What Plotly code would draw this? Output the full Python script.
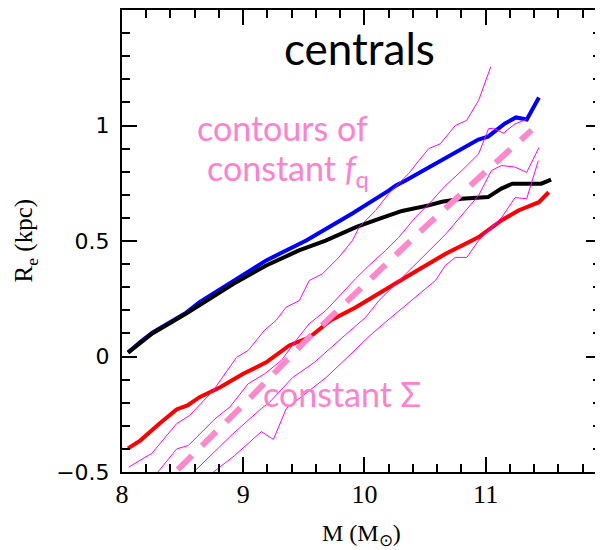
import plotly.graph_objects as go

# ---------------- data ----------------
blue_x = [8.05, 8.15, 8.25, 8.53, 8.64, 8.92, 9.19, 9.52, 9.90, 10.20, 10.26, 10.34,
          10.64, 10.83, 10.94, 11.02, 11.16, 11.25, 11.34, 11.44]
blue_y = [0.017, 0.063, 0.103, 0.19, 0.235, 0.329, 0.416, 0.502, 0.619, 0.718, 0.740, 0.762,
          0.850, 0.905, 0.939, 0.952, 1.009, 1.035, 1.026, 1.121]

black_x = [8.05, 8.15, 8.25, 8.53, 8.64, 8.92, 9.19, 9.46, 9.68, 9.93, 10.12, 10.31,
           10.53, 10.64, 10.80, 10.94, 11.02, 11.13, 11.22, 11.38, 11.46, 11.54]
black_y = [0.017, 0.061, 0.100, 0.186, 0.221, 0.315, 0.394, 0.459, 0.502, 0.560, 0.596, 0.630,
           0.654, 0.670, 0.683, 0.686, 0.690, 0.727, 0.748, 0.748, 0.748, 0.766]

red_x = [8.05, 8.15, 8.31, 8.45, 8.54, 8.64, 8.81, 9.00, 9.19, 9.38, 9.55, 9.72, 9.93,
         10.12, 10.20, 10.39, 10.67, 10.94, 11.13, 11.27, 11.44, 11.52]
red_y = [-0.398, -0.364, -0.290, -0.229, -0.212, -0.176, -0.133, -0.075, -0.025, 0.048, 0.084,
         0.156, 0.213, 0.271, 0.300, 0.358, 0.445, 0.516, 0.589, 0.632, 0.668, 0.711]

# constant surface density (dashed)
sigma_x = [8.46, 9.0, 9.5, 10.0, 10.5, 11.0, 11.38]
sigma_y = [-0.49, -0.21, 0.06, 0.31, 0.56, 0.80, 0.98]

# contours of constant f_q (thin magenta)
cA_x = [8.055, 8.247, 8.452, 8.559, 8.753, 8.945, 9.041, 9.175, 9.271, 9.353, 9.463, 9.545,
        9.654, 9.791, 9.901, 9.956, 10.093, 10.202, 10.284, 10.366, 10.449, 10.531, 10.627,
        10.750, 10.843, 10.942, 11.043]
cA_y = [-0.479, -0.419, -0.290, -0.255, -0.147, -0.004, 0.026, 0.113, 0.156, 0.213, 0.242,
        0.329, 0.358, 0.430, 0.502, 0.560, 0.632, 0.706, 0.749, 0.792, 0.848, 0.900, 0.921,
        1.000, 1.022, 1.108, 1.255]

cB_x = [8.288, 8.452, 8.548, 8.671, 8.767, 8.890, 9.041, 9.177, 9.315, 9.435, 9.545, 9.682,
        9.929, 10.038, 10.175, 10.284, 10.422, 10.558, 10.662, 10.804, 10.942, 11.024, 11.065,
        11.147, 11.243, 11.336]
cB_y = [-0.505, -0.400, -0.385, -0.320, -0.270, -0.219, -0.118, -0.075, -0.017, 0.069, 0.142,
        0.199, 0.338, 0.394, 0.459, 0.516, 0.603, 0.675, 0.736, 0.805, 0.877, 0.986, 0.988,
        0.967, 1.007, 1.026]

cC_x = [8.588, 8.748, 8.832, 8.915, 9.150, 9.216, 9.408, 9.586, 9.846, 10.011, 10.120, 10.383,
        10.668, 10.942, 11.048, 11.131, 11.243, 11.339, 11.440]
cC_y = [-0.502, -0.422, -0.378, -0.335, -0.225, -0.199, -0.091, -0.026, 0.095, 0.170, 0.242,
        0.381, 0.528, 0.697, 0.805, 0.827, 0.820, 0.797, 0.905]

cD_x = [8.750, 8.929, 9.150, 9.249, 9.356, 9.569, 9.684, 9.849, 10.038, 10.161, 10.383, 10.586,
        10.668, 10.750, 10.845, 10.942, 11.133, 11.243, 11.339, 11.435]
cD_y = [-0.502, -0.429, -0.325, -0.359, -0.225, -0.139, -0.091, -0.009, 0.087, 0.143, 0.242,
        0.329, 0.394, 0.429, 0.429, 0.502, 0.602, 0.688, 0.683, 0.848]

x_tickvals = [8, 9, 10, 11]
x_ticktext = ["8", "9", "10", "11"]
y_tickvals = [-0.5, 0, 0.5, 1]
y_ticktext = ["\u22120.5", "0", "0.5", "1"]

PINK = "#ff80cc"

fig = go.Figure()

fig.add_trace(go.Scatter(x=blue_x, y=blue_y, mode="lines",
                         line=dict(color="#0000ff", width=4)))
fig.add_trace(go.Scatter(x=black_x, y=black_y, mode="lines",
                         line=dict(color="#000000", width=4)))
fig.add_trace(go.Scatter(x=red_x, y=red_y, mode="lines",
                         line=dict(color="#ff0000", width=4)))
for cx, cy in [(cA_x, cA_y), (cB_x, cB_y), (cC_x, cC_y), (cD_x, cD_y)]:
    fig.add_trace(go.Scatter(x=cx, y=cy, mode="lines",
                             line=dict(color="#ff00ff", width=1)))
fig.add_trace(go.Scatter(x=sigma_x, y=sigma_y, mode="lines",
                         line=dict(color="#ff88cc", width=6, dash="20px,14px")))

axis_common = dict(showline=True, linecolor="black", linewidth=2, mirror="allticks",
                   ticks="inside", tickcolor="black", tickwidth=2, ticklen=15,
                   showgrid=False, zeroline=False)

fig.update_xaxes(range=[8, 11.952], tickmode="array", tickvals=x_tickvals, ticktext=x_ticktext,
                 tickfont=dict(family="Liberation Serif", size=26, color="black"),
                 ticklabelstandoff=-2,
                 minor=dict(tickmode="linear", tick0=8, dtick=0.2, ticks="inside",
                            ticklen=8, tickwidth=1.5, tickcolor="black"),
                 **axis_common)
fig.update_yaxes(range=[-0.5, 1.5], tickmode="array", tickvals=y_tickvals, ticktext=y_ticktext,
                 tickfont=dict(family="DejaVu Sans", size=22, color="black"),
                 ticklabelstandoff=6,
                 minor=dict(tickmode="linear", tick0=-0.5, dtick=0.1, ticks="inside",
                            ticklen=8, tickwidth=1.5, tickcolor="black"),
                 **axis_common)

annotations = [
    dict(text="centrals", x=0.4948, y=0.918, xref="paper", yref="paper",
         xanchor="center", yanchor="middle", showarrow=False,
         font=dict(family="Lato", size=44, color="black")),
    dict(text="contours of", x=0.152, y=0.745, xref="paper", yref="paper",
         xanchor="left", yanchor="middle", showarrow=False,
         font=dict(family="Lato", size=34, color=PINK)),
    dict(text="constant <i>f</i><sub>q</sub>", x=0.173, y=0.654, xref="paper", yref="paper",
         xanchor="left", yanchor="middle", showarrow=False,
         font=dict(family="Lato", size=34, color=PINK)),
    dict(text="constant \u03a3", x=0.291, y=0.169, xref="paper", yref="paper",
         xanchor="left", yanchor="middle", showarrow=False,
         font=dict(family="Lato", size=34, color=PINK)),
    dict(text="R<sub>e</sub> (kpc)", x=-0.2017, y=0.50, xref="paper", yref="paper",
         xanchor="center", yanchor="middle", textangle=-90, showarrow=False,
         font=dict(family="Liberation Serif", size=25, color="black")),
    dict(text="M (M<sub>\u2299</sub>)", x=0.5, y=-0.136, xref="paper", yref="paper",
         xanchor="center", yanchor="middle", showarrow=False,
         font=dict(family="Liberation Serif", size=24, color="black")),
]

# page body has an 8px margin, so the figure is sized/placed to land the
# plot frame at the reference position (x 122-603, y 10-472)
fig.update_layout(width=595, height=542, showlegend=False,
                  margin=dict(l=114, r=0, t=2, b=78),
                  plot_bgcolor="white", paper_bgcolor="white",
                  annotations=annotations)

fig.write_html("out.html")
